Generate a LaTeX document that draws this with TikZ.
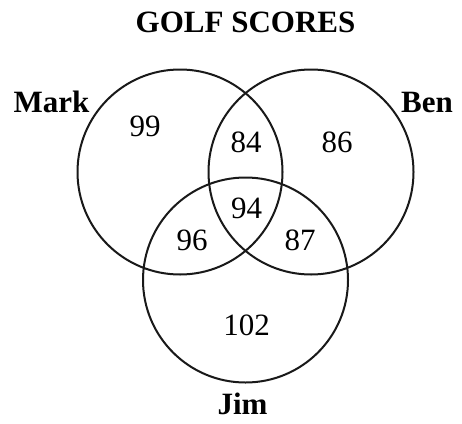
\documentclass[tikz,border=0pt]{standalone}
\usepackage{fontspec}
\setmainfont{Liberation Serif}
\begin{document}
\begin{tikzpicture}[x=1pt,y=-1pt,
  ring/.style={draw, circle, line width=2pt, minimum size=205pt, inner sep=0pt, outer sep=0pt, color=black!90},
  num/.style={anchor=base, inner sep=0pt, font=\fontsize{31}{36}\selectfont},
  lbl/.style={anchor=base, inner sep=0pt, font=\fontsize{31}{36}\selectfont\bfseries}]
\useasboundingbox (0,0) rectangle (462,423);
\node[ring] (mark) at (180,172) {};
\node[ring] (ben) at (311,172) {};
\node[ring] (jim) at (245.5,280) {};
\node[lbl] (title) at (245.5,32) {GOLF SCORES};
\node[lbl] (markl) at (51.5,112) {Mark};
\node[lbl] (benl) at (427,112) {Ben};
\node[lbl] (jiml) at (242.5,414) {Jim};
\node[num] (n99) at (145,136) {99};
\node[num] (n84) at (246,152) {84};
\node[num] (n86) at (337,152) {86};
\node[num] (n94) at (246.5,218) {94};
\node[num] (n96) at (192,250) {96};
\node[num] (n87) at (300,250) {87};
\node[num] (n102) at (246.5,335) {102};
\end{tikzpicture}
\end{document}
